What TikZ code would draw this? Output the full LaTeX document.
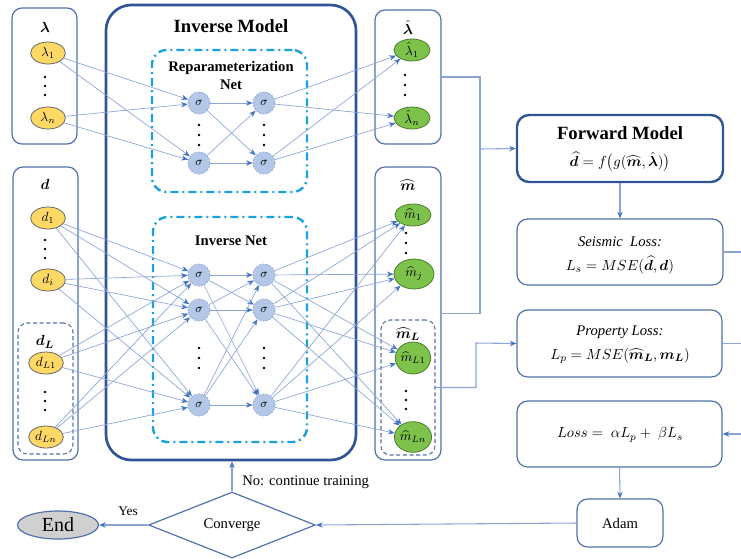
\documentclass[tikz,border=0pt]{standalone}
\usepackage{fontspec}
\setmainfont{Liberation Serif}
\usepackage{amsmath}
\usepackage{bm}
\usetikzlibrary{arrows.meta,shapes.geometric,fit}

\definecolor{deepblue}{HTML}{2F5597}
\definecolor{panelblue}{HTML}{5271AA}
\definecolor{linkblue}{HTML}{8AA4D6}
\definecolor{tipblue}{HTML}{4472C4}
\definecolor{netcyan}{HTML}{1BA1DD}
\definecolor{inyellow}{HTML}{FFD966}
\definecolor{outgreen}{HTML}{7DC24B}
\definecolor{greenedge}{HTML}{4E7F2E}
\definecolor{neuronfill}{HTML}{B4C7E7}
\definecolor{neuronedge}{HTML}{8FAADC}
\definecolor{endgrey}{HTML}{D0D0D0}

\tikzset{
  panel/.style={draw=panelblue, line width=0.9pt, rounded corners=7.5pt, inner sep=0pt},
  subpanel/.style={draw=panelblue, line width=0.8pt, dash pattern=on 3pt off 2pt, rounded corners=7pt, inner sep=0pt},
  modelbox/.style={draw=deepblue, line width=2pt, rounded corners=19pt, inner sep=0pt},
  fwdbox/.style={draw=deepblue, line width=1.8pt, rounded corners=9pt, inner sep=0pt},
  lossbox/.style={draw=panelblue, line width=0.9pt, rounded corners=8pt, inner sep=0pt},
  netbox/.style={draw=netcyan, line width=1.8pt, dash pattern=on 6pt off 3pt on 1.5pt off 3pt, rounded corners=11pt, inner sep=0pt},
  inval/.style={ellipse, draw=black!60, fill=inyellow, line width=0.6pt, minimum width=26pt, minimum height=16.5pt, inner sep=0pt, font=\fontsize{10}{12}\selectfont},
  outval/.style={ellipse, draw=greenedge, fill=outgreen, line width=0.6pt, minimum width=27pt, minimum height=16.5pt, inner sep=0pt, font=\fontsize{10}{12}\selectfont},
  neuron/.style={circle, fill=neuronfill, draw=neuronedge, dash pattern=on 1.5pt off 1pt, line width=0.6pt, minimum size=16.5pt, inner sep=0pt, font=\fontsize{9}{10}\selectfont},
  link/.style={draw=linkblue, line width=0.5pt, -{Stealth[length=5pt,width=4pt,color=tipblue]}},
  flow/.style={draw=linkblue, line width=0.8pt},
  flowarrow/.style={flow, -{Stealth[length=5pt,width=4pt,color=tipblue]}},
  title/.style={font=\fontsize{11}{13}\selectfont, inner sep=0pt},
  plain/.style={font=\fontsize{11}{13}\selectfont, inner sep=0pt},
  dot/.style={fill=black},
}

\begin{document}
\begin{tikzpicture}[x=0.75pt, y=-0.75pt]
\useasboundingbox (0,0) rectangle (741,558);

% ---------- input panels ----------
\node[panel, fit={(12,8) (77,144)}] (lamBox) {};
\node[title] (lamT) at (45,27) {$\bm{\lambda}$};
\node[inval] (lam1) at (48,53) {$\lambda_1$};
\node[inval] (lamn) at (48,118) {$\lambda_n$};
\foreach \y in {77,86,95} \fill[dot] (45,\y) circle (1.1pt);

\node[panel, fit={(13,167) (78,460)}] (dBox) {};
\node[title] (dT) at (45,184) {$\bm{d}$};
\node[inval] (d1) at (48,218) {$d_1$};
\node[inval] (di) at (48,280) {$d_i$};
\foreach \y in {240,249,258} \fill[dot] (45,\y) circle (1.1pt);

\node[subpanel, fit={(18,323) (73,454)}] (dLBox) {};
\node[title] (dLT) at (45,342) {$\bm{d_L}$};
\node[inval] (dL1) at (46,363) {$d_{L1}$};
\node[inval] (dLn) at (46,437) {$d_{Ln}$};
\foreach \y in {392,401,410} \fill[dot] (45,\y) circle (1.1pt);

% ---------- inverse model ----------
\node[modelbox, fit={(106,5) (356,460)}] (invBox) {};
\node[font=\fontsize{14}{16}\selectfont\bfseries, inner sep=0pt] (invT) at (231,26) {Inverse Model};

\node[netbox, fit={(152,50) (307,192)}] (repBox) {};
\node[font=\fontsize{11}{13.5}\selectfont\bfseries, align=center, inner sep=0pt] (repT) at (231,75) {Reparameterization\\Net};
\node[neuron] (r11) at (199,103) {$\sigma$};
\node[neuron] (r12) at (199,163) {$\sigma$};
\node[neuron] (r21) at (264,103) {$\sigma$};
\node[neuron] (r22) at (264,163) {$\sigma$};
\foreach \x in {199,264} \foreach \y in {125,135,145} \fill[dot] (\x,\y) circle (1.1pt);

\node[netbox, fit={(153,217) (307,442)}] (invNet) {};
\node[font=\fontsize{11}{13}\selectfont\bfseries, inner sep=0pt] (invNetT) at (231,241) {Inverse Net};
\node[neuron] (i11) at (199,275) {$\sigma$};
\node[neuron] (i12) at (199,310) {$\sigma$};
\node[neuron] (i13) at (199,405) {$\sigma$};
\node[neuron] (i21) at (264,275) {$\sigma$};
\node[neuron] (i22) at (264,310) {$\sigma$};
\node[neuron] (i23) at (264,405) {$\sigma$};
\foreach \x in {199,264} \foreach \y in {348,358,368} \fill[dot] (\x,\y) circle (1.1pt);

% ---------- output panels ----------
\node[panel, fit={(375,10) (441,144)}] (lamHatBox) {};
\node[title] (lamHatT) at (408,27) {$\hat{\bm{\lambda}}$};
\node[outval] (lh1) at (412,50) {$\hat{\lambda}_1$};
\node[outval] (lhn) at (412,118) {$\hat{\lambda}_n$};
\foreach \y in {75,85,95} \fill[dot] (405,\y) circle (1.1pt);

\node[panel, fit={(375,167) (441,460)}] (mBox) {};
\node[title] (mT) at (408,185) {$\widehat{\bm{m}}$};
\node[outval] (m1) at (413,215) {$\widehat{m}_1$};
\node[outval, minimum width=30pt, minimum height=22.5pt] (mj) at (414,274) {$\widehat{m}_j$};
\foreach \y in {233,243,253} \fill[dot] (406,\y) circle (1.1pt);

\node[subpanel, fit={(381,320) (435,455)}] (mLBox) {};
\node[title] (mLT) at (408,334) {$\widehat{\bm{m}}_{\bm{L}}$};
\node[outval, minimum width=24pt, minimum height=24pt] (mL1) at (413,358) {$\widehat{m}_{L1}$};
\node[outval, minimum width=24pt, minimum height=23pt] (mLn) at (413,437) {$\widehat{m}_{Ln}$};
\foreach \y in {391,400,409} \fill[dot] (406,\y) circle (1.1pt);

% ---------- network links ----------
\foreach \a in {lam1,lamn} \foreach \b in {r11,r12} \draw[link] (\a) -- (\b);
\foreach \a in {r11,r12} \foreach \b in {r21,r22} \draw[link] (\a) -- (\b);
\foreach \a in {r21,r22} \foreach \b in {lh1,lhn} \draw[link] (\a) -- (\b);

\foreach \a in {d1,di,dL1,dLn} \foreach \b in {i11,i12,i13} \draw[link] (\a) -- (\b);
\foreach \a in {i11,i12,i13} \foreach \b in {i21,i22,i23} \draw[link] (\a) -- (\b);
\foreach \a in {i21,i22,i23} \foreach \b in {m1,mj,mL1,mLn} \draw[link] (\a) -- (\b);

% ---------- forward model and losses ----------
\node[fwdbox, fit={(517,115) (723,182)}] (fwd) {};
\node[font=\fontsize{14}{16}\selectfont\bfseries, inner sep=0pt] (fwdT) at (620,133) {Forward Model};
\node[plain] (fwdF) at (620,162) {$\widehat{\bm{d}} = f\big(g(\widehat{\bm{m}},\hat{\bm{\lambda}})\big)$};

\node[lossbox, fit={(517,219) (723,285)}] (seis) {};
\node[plain] (seisT) at (620,242) {\textit{Seismic\ \ Loss:}};
\node[plain] (seisF) at (620,265) {$L_s = MSE(\widehat{\bm{d}},\bm{d})$};

\node[lossbox, fit={(517,310) (722,377)}] (prop) {};
\node[plain] (propT) at (620,332) {\textit{Property Loss:}};
\node[plain] (propF) at (620,356) {$L_p = MSE(\widehat{\bm{m}}_{\bm{L}},\bm{m}_{\bm{L}})$};

\node[lossbox, fit={(517,401) (722,467)}] (loss) {};
\node[plain] (lossF) at (620,435) {$Loss =\ \alpha L_p +\ \beta L_s$};

\node[lossbox, fit={(577,499) (663,547)}] (adam) {};
\node[plain] (adamT) at (620,523) {Adam};

\node[diamond, draw=panelblue, line width=0.9pt, minimum width=125pt, minimum height=49.5pt, aspect=2.5, inner sep=0pt, font=\fontsize{11}{13}\selectfont] (conv) at (232,525) {Converge};
\node[ellipse, draw=panelblue, fill=endgrey, line width=0.9pt, minimum width=60.75pt, minimum height=21pt, inner sep=0pt, font=\fontsize{15}{17}\selectfont] (endN) at (58,525) {End};

% ---------- flow connectors ----------
\coordinate (busA) at (480,149);
\coordinate (busB) at (476,343);
\coordinate (railR) at (745,300);

\draw[flow] (lamHatBox.east) -- (lamHatBox.east -| busA) -- (mBox.east -| busA) -- (mBox.east);
\draw[flowarrow] (busA) -- (fwd.west);
\draw[flowarrow] (mLBox.east) -| (busB) -- (prop.west);
\draw[flowarrow] (fwd.south) -- (seis.north);
\draw[flow] (seis.east) -- (seis.east -| railR) -- (loss.east -| railR);
\draw[flow] (prop.east) -- (prop.east -| railR);
\draw[flowarrow] (loss.east -| railR) -- (loss.east);
\draw[flowarrow] (loss.south) -- (adam.north);
\draw[flowarrow] (adam.west) -- (conv.east);
\draw[flowarrow] (conv.north) -- (conv.north |- invBox.south);
\draw[flowarrow] (conv.west) -- (endN.east);

\node[plain, anchor=west] (noT) at (242,482) {No: continue training};
\node[font=\fontsize{10}{12}\selectfont, inner sep=0pt] (yesT) at (128,511) {Yes};
\end{tikzpicture}
\end{document}
